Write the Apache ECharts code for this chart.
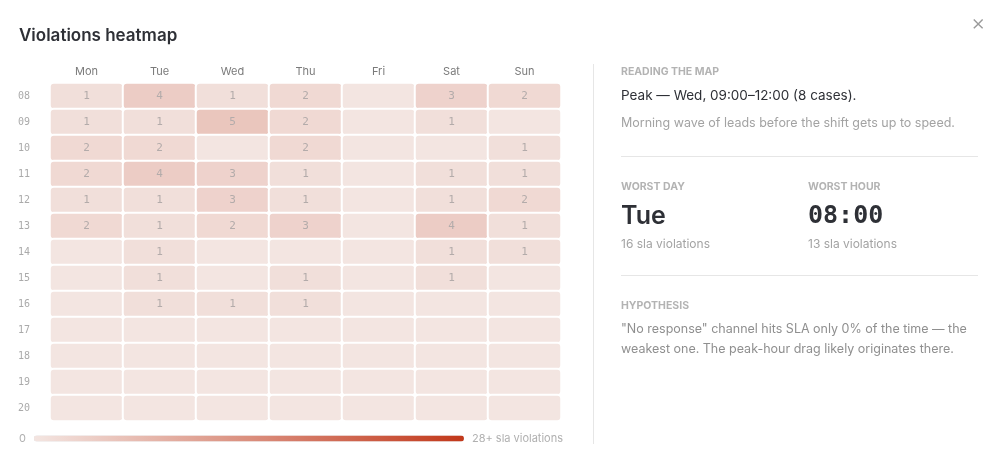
<!DOCTYPE html>
<html><head><meta charset="utf-8">
<script src="https://cdn.jsdelivr.net/npm/echarts@6/dist/echarts.min.js"></script>
<style>html,body{margin:0;padding:0;background:#fff}#c{width:1000px;height:460px}</style>
</head><body><div id="c"></div>
<script>
const days = ['Mon','Tue','Wed','Thu','Fri','Sat','Sun'];
const hours = ['08','09','10','11','12','13','14','15','16','17','18','19','20'];
// rows = hours, cols = days
const h08 = [1,4,1,2,0,3,2];
const h09 = [1,1,5,2,0,1,0];
const h10 = [2,2,0,2,0,0,1];
const h11 = [2,4,3,1,0,1,1];
const h12 = [1,1,3,1,0,1,2];
const h13 = [2,1,2,3,0,4,1];
const h14 = [0,1,0,0,0,1,1];
const h15 = [0,1,0,1,0,1,0];
const h16 = [0,1,1,1,0,0,0];
const h17 = [0,0,0,0,0,0,0];
const h18 = [0,0,0,0,0,0,0];
const h19 = [0,0,0,0,0,0,0];
const h20 = [0,0,0,0,0,0,0];
const rows = [h08,h09,h10,h11,h12,h13,h14,h15,h16,h17,h18,h19,h20];
const scaleMax = 28;

const data = [];
rows.forEach((r, hi) => r.forEach((v, di) => data.push([di, hi, v])));

const sans = 'Inter, "Noto Sans", sans-serif';
const mono = '"DejaVu Sans Mono", monospace';
const chart = echarts.init(document.getElementById('c'));
const RX = 621, RX2 = 808;
chart.setOption({
  animation: false,
  backgroundColor: '#fff',
  title: { text: 'Violations heatmap', left: 14, top: 22,
    textStyle: { fontFamily: sans, fontSize: 17, fontWeight: 600, color: '#2e3036' } },
  grid: { left: 50, top: 83, width: 511, height: 338 },
  xAxis: { type: 'category', data: days, position: 'top',
    axisLine: { show: false }, axisTick: { show: false }, splitLine: { show: false },
    axisLabel: { fontFamily: sans, fontSize: 11, color: '#7a7a7a', margin: 6 } },
  yAxis: { type: 'category', data: hours, inverse: true,
    axisLine: { show: false }, axisTick: { show: false }, splitLine: { show: false },
    axisLabel: { fontFamily: mono, fontSize: 10, color: '#aaaaaa', align: 'left', margin: 32 } },
  visualMap: { type: 'continuous', min: 0, max: scaleMax, orient: 'horizontal',
    left: 4, top: 418, itemWidth: 6, itemHeight: 430, calculable: false,
    text: ['28+ sla violations', '0'], textGap: 8,
    textStyle: { fontFamily: sans, fontSize: 11, color: '#b0b0b0' },
    inRange: { color: ['#f3e5e1', '#c2381a'] } },
  series: [{ type: 'heatmap', data: data,
    itemStyle: { borderColor: '#fff', borderWidth: 2, borderRadius: 4 },
    label: { show: true, fontFamily: mono, fontSize: 11, color: '#b3abaa',
      formatter: p => p.value[2] > 0 ? String(p.value[2]) : '' },
    emphasis: { disabled: true } }],
  graphic: [
    { type: 'text', left: 971, top: 12, style: { text: '×', font: '300 22px ' + sans, fill: '#9a9a9a' } },
    { type: 'line', shape: { x1: 593.5, y1: 64, x2: 593.5, y2: 444 }, style: { stroke: '#e6e6e6', lineWidth: 1 } },
    { type: 'text', x: RX, y: 66, style: { text: 'READING THE MAP', font: '700 10.5px ' + sans, fill: '#b3b3b3' } },
    { type: 'text', x: RX, y: 89, style: { text: 'Peak — Wed, 09:00–12:00 (8 cases).', font: '400 13.5px ' + sans, fill: '#2e3036' } },
    { type: 'text', x: RX, y: 117, style: { text: 'Morning wave of leads before the shift gets up to speed.', font: '400 12.5px ' + sans, fill: '#a3a3a3' } },
    { type: 'line', shape: { x1: RX, y1: 156.5, x2: 978, y2: 156.5 }, style: { stroke: '#e6e6e6', lineWidth: 1 } },
    { type: 'text', x: RX, y: 181, style: { text: 'WORST DAY', font: '700 10.5px ' + sans, fill: '#b3b3b3' } },
    { type: 'text', x: RX2, y: 181, style: { text: 'WORST HOUR', font: '700 10.5px ' + sans, fill: '#b3b3b3' } },
    { type: 'text', x: RX, y: 204, style: { text: 'Tue', font: '600 25px ' + sans, fill: '#2e3036' } },
    { type: 'text', x: RX2, y: 204, style: { text: '08:00', font: '700 25px ' + mono, fill: '#2e3036' } },
    { type: 'text', x: RX, y: 238, style: { text: '16 sla violations', font: '400 12px ' + sans, fill: '#a3a3a3' } },
    { type: 'text', x: RX2, y: 238, style: { text: '13 sla violations', font: '400 12px ' + sans, fill: '#a3a3a3' } },
    { type: 'line', shape: { x1: RX, y1: 275.5, x2: 978, y2: 275.5 }, style: { stroke: '#e6e6e6', lineWidth: 1 } },
    { type: 'text', x: RX, y: 300, style: { text: 'HYPOTHESIS', font: '700 10.5px ' + sans, fill: '#b3b3b3' } },
    { type: 'text', x: RX, y: 323, style: { text: '"No response" channel hits SLA only 0% of the time — the', font: '400 12.5px ' + sans, fill: '#8f8f8f' } },
    { type: 'text', x: RX, y: 343, style: { text: 'weakest one. The peak-hour drag likely originates there.', font: '400 12.5px ' + sans, fill: '#8f8f8f' } }
  ]
});
</script>
</body></html>
